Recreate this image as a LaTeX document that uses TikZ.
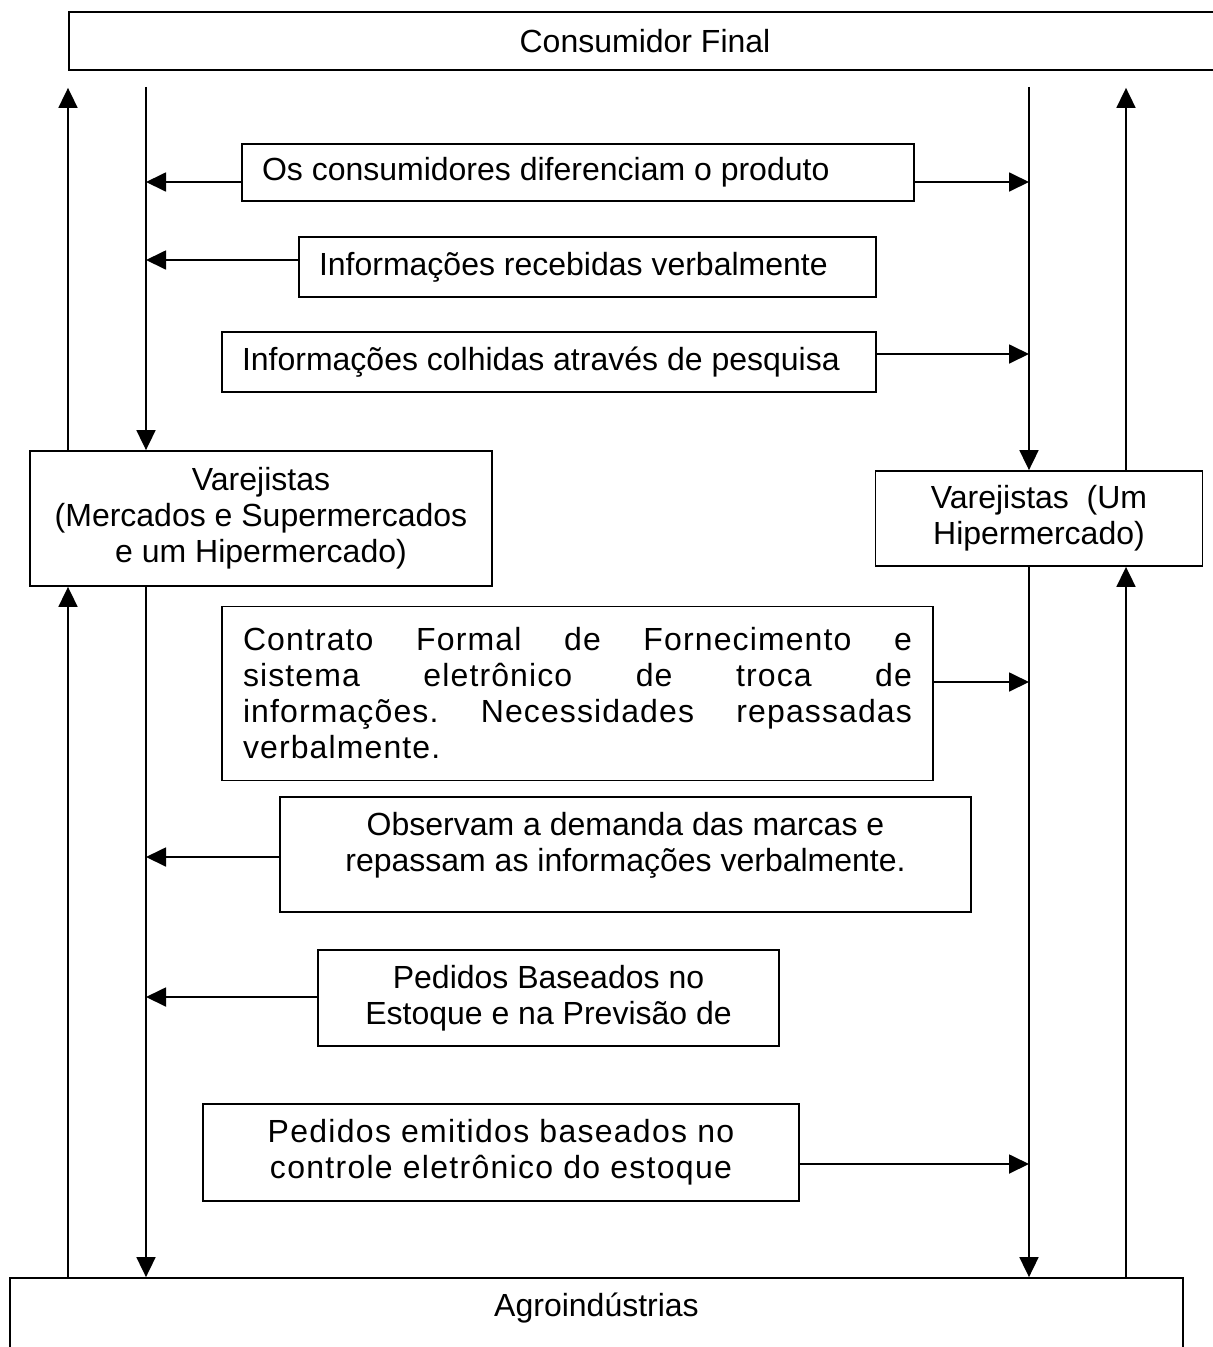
\documentclass[tikz,border=0pt]{standalone}
\usepackage{fontspec}
\setmainfont{Liberation Sans}
\usetikzlibrary{arrows.meta}
% a justified line of fixed width: all word spaces share the free room equally
\newcommand\fullline[1]{\leavevmode\hbox to 669pt{\spaceskip=0.278em plus 1fil\relax
  \xspaceskip=0.278em plus 1fil\relax #1}}
% natural word space of the font inside flush-left boxes
\newcommand\tsp{\spaceskip=0.278em\relax}
\begin{document}
\begin{tikzpicture}[x=1pt,y=-1pt,
  every node/.style={font=\fontsize{32}{36}\selectfont},
  box/.style={draw, line width=1.8pt, rectangle, inner sep=0pt, align=center},
  leftbox/.style={box, inner xsep=20pt, align=left},
  spaced/.style={font=\fontsize{32}{36}\selectfont\addfontfeature{LetterSpace=#1}},
  link/.style={line width=1.8pt},
  tri/.style={-{Triangle[length=20pt,width=19pt]}}
]
\useasboundingbox (0,0) rectangle (1213,1347);
\clip (0,0) rectangle (1213,1347);

% x positions of the four vertical flows
\coordinate (xa) at (68,0);
\coordinate (xb) at (146,0);
\coordinate (xc) at (1029,0);
\coordinate (xd) at (1126,0);

% chain levels
\node[box, minimum width=1152pt, minimum height=58pt] (cons) at (645,41) {Consumidor Final};
\node[box, minimum width=1173pt, minimum height=120pt,
      label={[name=agrotxt, anchor=center, yshift=-31pt]north:Agroindústrias}] (agro) at (596.5,1338) {};
\node[box, minimum width=462pt, minimum height=135pt] (vl) at (261,518.5)
  {Varejistas\\(Mercados e Supermercados\\e um Hipermercado)};
\node[box, minimum width=327pt, minimum height=95pt] (vr) at (1039,518.5)
  {Varejistas\ \ (Um\\Hipermercado)};

% information flows
\node[leftbox, text width=632pt, minimum width=672pt, minimum height=57pt] (b1) at (578,172.5)
  {\tsp Os consumidores diferenciam o produto};
\node[leftbox, text width=537pt, minimum width=577pt, minimum height=60pt] (b2) at (587.5,267)
  {\tsp Informações recebidas verbalmente};
\node[leftbox, text width=614pt, minimum width=654pt, minimum height=60pt] (b3) at (549,362)
  {\tsp Informações colhidas através de pesquisa};
\node[leftbox, spaced=3.5, inner xsep=21pt, text width=669pt, minimum width=711pt, minimum height=174pt] (b4) at (577.5,693.5)
  {\fullline{Contrato Formal de Fornecimento e}\\\fullline{sistema eletrônico de troca de}\\\fullline{informações. Necessidades repassadas}\\verbalmente.};
\node[box, minimum width=691pt, minimum height=115pt,
      label={[name=b5txt, anchor=center, align=center, yshift=9.5pt]center:Observam a demanda das marcas e\\repassam as informações verbalmente.}] (b5) at (625.5,854.5) {};
\node[box, minimum width=461pt, minimum height=96pt] (b6) at (548.5,998)
  {Pedidos Baseados no\\Estoque e na Previsão de};
\node[box, spaced=4, minimum width=596pt, minimum height=97pt] (b7) at (501,1152.5)
  {Pedidos emitidos baseados no\\controle eletrônico do estoque};

% vertical flows between the levels
\draw[link,tri,shorten >=17pt] (vl.north -| xa) -- (cons.south -| xa);
\draw[link,tri,shorten <=16pt] (cons.south -| xb) -- (vl.north -| xb);
\draw[link,tri,shorten <=16pt] (cons.south -| xc) -- (vr.north -| xc);
\draw[link,tri,shorten >=17pt] (vr.north -| xd) -- (cons.south -| xd);
\draw[link,tri] (vl.south -| xb) -- (agro.north -| xb);
\draw[link,tri] (agro.north -| xa) -- (vl.south -| xa);
\draw[link,tri] (vr.south -| xc) -- (agro.north -| xc);
\draw[link,tri] (agro.north -| xd) -- (vr.south -| xd);

% horizontal feeds into the flows
\draw[link,tri] ([yshift=-9.5pt]b1.west) -- ([yshift=-9.5pt]b1.west -| xb);
\draw[link,tri] ([yshift=-9.5pt]b1.east) -- ([yshift=-9.5pt]b1.east -| xc);
\draw[link,tri] ([yshift=7pt]b2.west) -- ([yshift=7pt]b2.west -| xb);
\draw[link,tri] ([yshift=8pt]b3.east) -- ([yshift=8pt]b3.east -| xc);
\draw[link,tri] ([yshift=11.5pt]b4.east) -- ([yshift=11.5pt]b4.east -| xc);
\draw[link,tri] ([yshift=-2.5pt]b5.west) -- ([yshift=-2.5pt]b5.west -| xb);
\draw[link,tri] ([yshift=1pt]b6.west) -- ([yshift=1pt]b6.west -| xb);
\draw[link,tri] ([yshift=-11.5pt]b7.east) -- ([yshift=-11.5pt]b7.east -| xc);
\end{tikzpicture}
\end{document}
